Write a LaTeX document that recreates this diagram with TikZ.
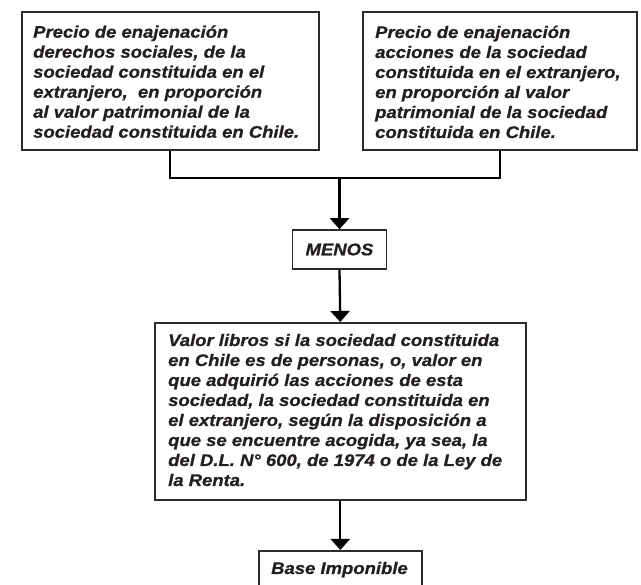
\documentclass[tikz,border=0pt]{standalone}
\usepackage{fontspec}
\setmainfont{Liberation Sans}[FakeStretch=1.1,BoldItalicFeatures={FakeBold=0.7}]
\usetikzlibrary{arrows.meta,calc}
\definecolor{ink}{HTML}{231F20}
\definecolor{frame}{HTML}{2B2B2B}
\newcommand\mytxt[2]{\parbox[t]{#1}{\raggedright\fontsize{16.8pt}{20pt}\selectfont\bfseries\itshape #2}}
\begin{document}
\begin{tikzpicture}[x=1pt,y=-1pt,
  frm/.style={draw=frame,line width=1.6pt,fill=white,inner sep=0pt,rectangle},
  txt/.style={inner sep=0pt,text=ink},
  lbl/.style={inner sep=0pt,text=ink,font=\fontsize{16.8pt}{20pt}\selectfont\bfseries\itshape},
  conn/.style={draw=black,line width=2.3pt},
  arr/.style={conn,-{Triangle[width=19pt,length=11pt]}}]
\useasboundingbox (0,0) rectangle (641,585);
\fill[white] (0,0) rectangle (641,585);
% boxes
\node[frm,minimum width=297pt,minimum height=138pt,anchor=north west] (L) at (21,11) {};
\node[frm,minimum width=274pt,minimum height=138pt,anchor=north west] (R) at (362,11) {};
\node[frm,minimum width=94pt,minimum height=39pt,lbl] (M) at (339.5,249.5) {MENOS};
\node[frm,minimum width=371pt,minimum height=177pt,anchor=north west] (C) at (154,322) {};
\node[frm,minimum width=163pt,minimum height=45pt,anchor=north west] (B) at (258,550) {};
% texts
\node[txt,anchor=base west] (Lt) at (33,37.7) {\mytxt{290pt}{Precio de enajenación\\
derechos sociales, de la\\
sociedad constituida en el\\
extranjero,\ \ en proporción\\
al valor patrimonial de la\\
sociedad constituida en Chile.}};
\node[txt,anchor=base west] (Rt) at (375,38) {\mytxt{265pt}{Precio de enajenación\\
acciones de la sociedad\\
constituida en el extranjero,\\
en proporción al valor\\
patrimonial de la sociedad\\
constituida en Chile.}};
\node[txt,anchor=base west] (Ct) at (168,346) {\mytxt{360pt}{Valor libros si la sociedad constituida\\
en Chile es de personas, o, valor en\\
que adquirió las acciones de esta\\
sociedad, la sociedad constituida en\\
el extranjero, según la disposición a\\
que se encuentre acogida, ya sea, la\\
del D.L. N° 600, de 1974 o de la Ley de\\
la Renta.}};
\node[lbl,anchor=base] (Bt) at (339.5,574) {Base Imponible};
% connectors
\coordinate (J) at (339.5,178);
\draw[conn] (L.south) |- (J) -| (R.south);
\draw[arr] (J) -- (M.north);
\draw[arr] (M.south) -- (C.north);
\draw[arr] (C.south) -- (B.north);
\end{tikzpicture}
\end{document}
